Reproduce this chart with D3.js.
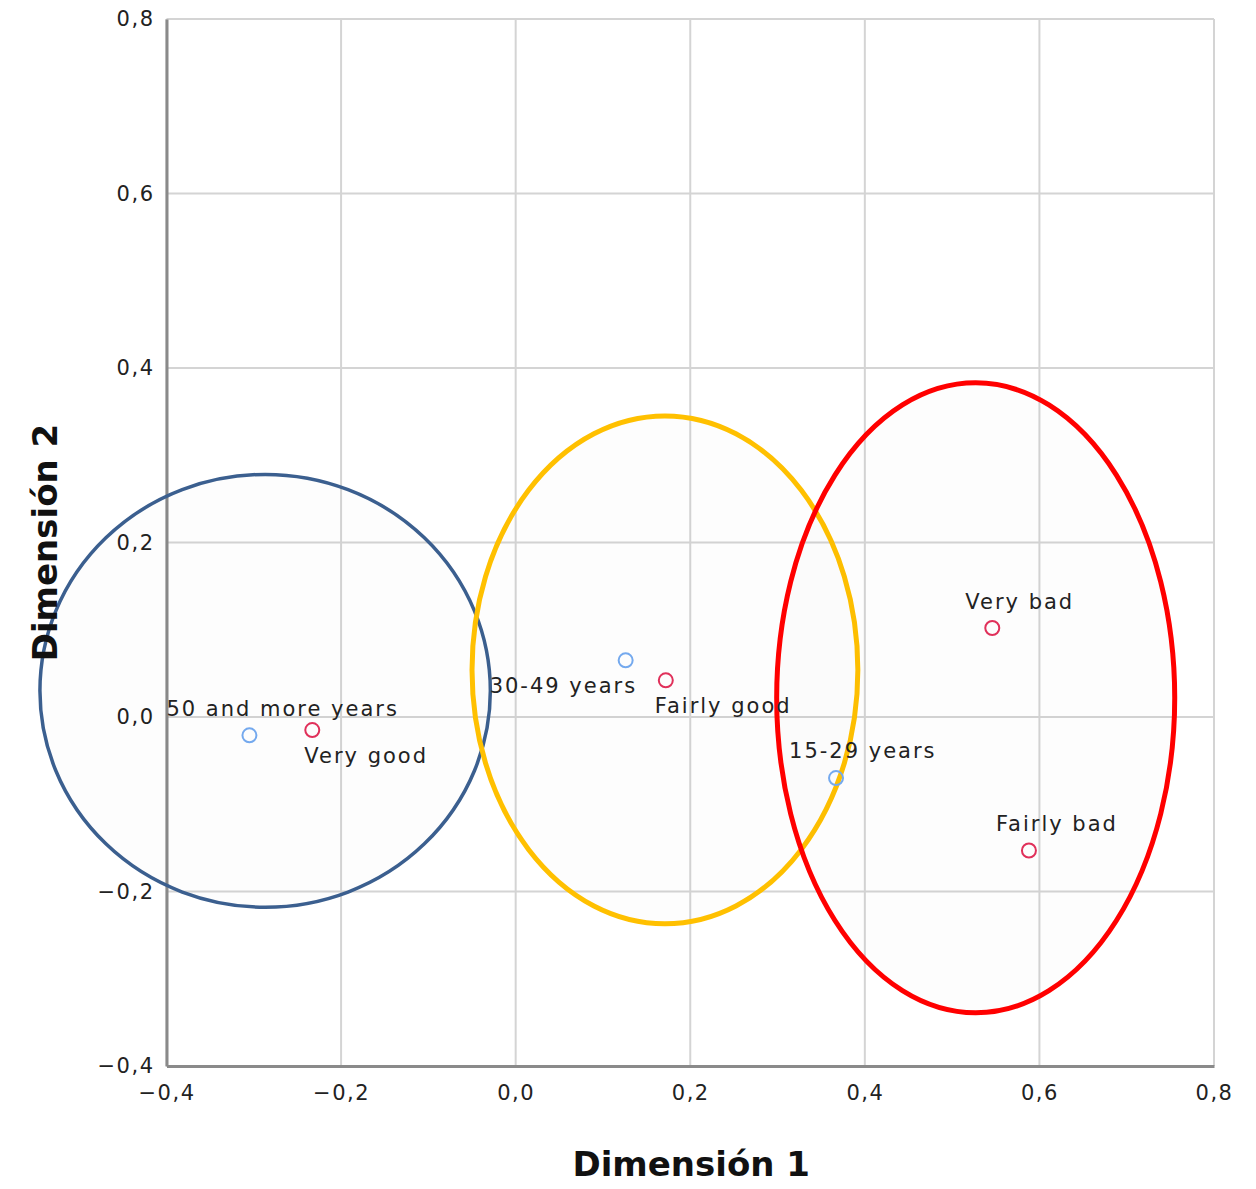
<!DOCTYPE html>
<html><head><meta charset="utf-8">
<script src="https://cdn.jsdelivr.net/npm/d3@7"></script>
<style>body{margin:0;background:#fff}svg{display:block}</style>
</head><body>
<script>
// ---- data ----
const categories = ["50 and more years","Very good","30-49 years","Fairly good","15-29 years","Very bad","Fairly bad"];
const groups = ["age","health","age","health","age","health","health"];
const dim1 = [-0.305,-0.233,0.126,0.172,0.367,0.546,0.588];
const dim2 = [-0.021,-0.015,0.065,0.042,-0.070,0.102,-0.153];
const xTicks = [-0.4,-0.2,0.0,0.2,0.4,0.6,0.8];
const yTicks = [-0.4,-0.2,0.0,0.2,0.4,0.6,0.8];
// annotation ellipses (data units): centre x, centre y, radius x, radius y
const ellipseNames = ["left","middle","right"];
const ellCx = [-0.287,0.171,0.527];
const ellCy = [0.030,0.054,0.022];
const ellRx = [0.258,0.221,0.228];
const ellRy = [0.248,0.291,0.361];

// ---- layout / style ----
const W=1256,H=1189;
const m={left:166.5,right:1214,top:19,bottom:1066};
const labelOff = [[-83,-19],[-8,33],[-136,33],[-11,33],[-47,-20],[-27,-19],[-33,-19]];
const ellColors = ["#3b5f8f","#ffc000","#ff0000"];
const ellWidth = [3.5,5,5];
const ptColor = {age:"#74a9ee",health:"#e0305a"};

const svg=d3.select("body").append("svg").attr("width",W).attr("height",H);
const x=d3.scaleLinear().domain([-0.4,0.8]).range([m.left,m.right]);
const y=d3.scaleLinear().domain([-0.4,0.8]).range([m.bottom,m.top]);
const fmt=v=>(v<0?"\u2212":"")+Math.abs(v).toFixed(1).replace(".",",");
const font="'DejaVu Sans', sans-serif";

// gridlines
svg.append("g").selectAll("line").data(xTicks).join("line")
  .attr("x1",d=>x(d)).attr("x2",d=>x(d)).attr("y1",m.top).attr("y2",m.bottom)
  .attr("stroke","#d4d4d4").attr("stroke-width",2);
svg.append("g").selectAll("line").data(yTicks).join("line")
  .attr("y1",d=>y(d)).attr("y2",d=>y(d)).attr("x1",m.left).attr("x2",m.right)
  .attr("stroke","#d4d4d4").attr("stroke-width",2);

// axes
const xAxis=d3.axisBottom(x).tickValues(xTicks).tickFormat(fmt).tickSize(0).tickPadding(19);
const gx=svg.append("g").attr("transform",`translate(0,${m.bottom})`).call(xAxis);
gx.attr("font-size",null).attr("font-family",null);
gx.select(".domain").attr("stroke","#8a8a8a").attr("stroke-width",3);
gx.selectAll("text").attr("font-family",font).attr("font-size",21).attr("letter-spacing",1.5).attr("fill","#222");
const yAxis=d3.axisLeft(y).tickValues(yTicks).tickFormat(fmt).tickSize(0).tickPadding(12);
const gy=svg.append("g").attr("transform",`translate(${m.left},0)`).call(yAxis);
gy.attr("font-size",null).attr("font-family",null);
gy.select(".domain").attr("stroke","#8a8a8a").attr("stroke-width",3);
gy.selectAll("text").attr("font-family",font).attr("font-size",21).attr("letter-spacing",1.5).attr("fill","#222");

// ellipses
svg.append("g").selectAll("ellipse").data(ellipseNames).join("ellipse")
  .attr("cx",(d,i)=>x(ellCx[i])).attr("cy",(d,i)=>y(ellCy[i]))
  .attr("rx",(d,i)=>x(ellRx[i])-x(0)).attr("ry",(d,i)=>y(0)-y(ellRy[i]))
  .attr("fill","rgba(0,0,0,0.007)").attr("stroke",(d,i)=>ellColors[i]).attr("stroke-width",(d,i)=>ellWidth[i]);

// points
svg.append("g").selectAll("circle").data(categories).join("circle")
  .attr("cx",(d,i)=>x(dim1[i])).attr("cy",(d,i)=>y(dim2[i])).attr("r",7)
  .attr("fill","none").attr("stroke",(d,i)=>ptColor[groups[i]]).attr("stroke-width",2);

// labels
svg.append("g").selectAll("text").data(categories).join("text")
  .attr("x",(d,i)=>x(dim1[i])+labelOff[i][0]).attr("y",(d,i)=>y(dim2[i])+labelOff[i][1])
  .attr("font-family",font).attr("font-size",21).attr("letter-spacing",2).attr("fill","#222").text(d=>d);

// axis titles
svg.append("text").attr("x",(m.left+m.right)/2+1).attr("y",1176).attr("text-anchor","middle")
  .attr("font-family",font).attr("font-weight","bold").attr("font-size",34).attr("fill","#111").text("Dimensión 1");
svg.append("text").attr("transform",`translate(57,${(m.top+m.bottom)/2}) rotate(-90)`).attr("text-anchor","middle")
  .attr("font-family",font).attr("font-weight","bold").attr("font-size",34).attr("fill","#111").text("Dimensión 2");
</script>
</body></html>
